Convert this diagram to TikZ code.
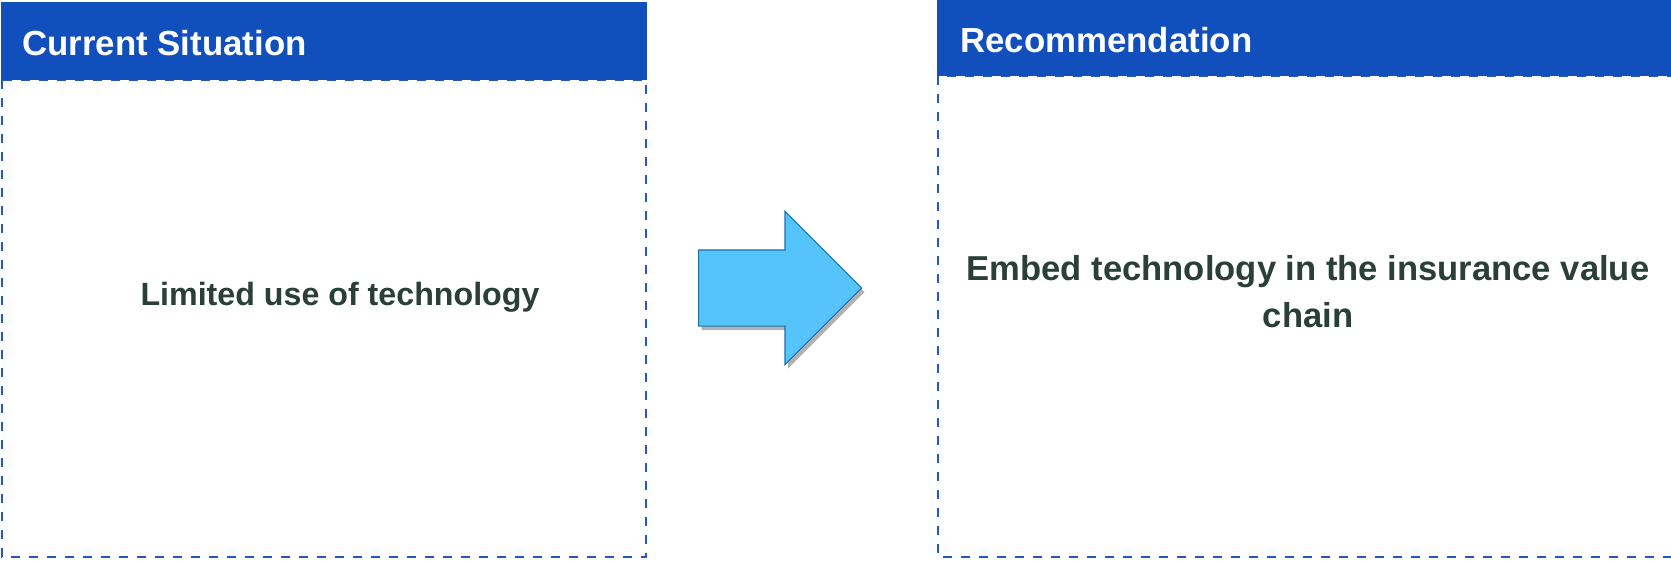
\documentclass[tikz,border=0pt]{standalone}
\usepackage{fontspec}
\setmainfont{Liberation Sans}
\usetikzlibrary{shapes.arrows,shadows}
\begin{document}
\begin{tikzpicture}[x=0.5pt,y=-0.5pt]
    \definecolor{headColour}{HTML}{114FBD}
    \definecolor{dashColour}{HTML}{2356C6}
    \definecolor{textColour}{HTML}{2A3F37}
    \definecolor{arrowFill}{HTML}{56C4FC}
    \definecolor{arrowBorder}{HTML}{1B73A8}

    \tikzset{
        headbar/.style={fill=headColour, draw=none},
        headtext/.style={anchor=base west, text=white, font=\fontsize{17.4}{20}\selectfont\bfseries, inner sep=0pt},
        boxline/.style={draw=dashColour, line width=1pt, dash pattern=on 4.5pt off 4.5pt},
        bodytext/.style={text=textColour, font=\fontsize{16.1}{23.5}\selectfont\bfseries, align=center, inner sep=0pt, anchor=base}
    }

    % Fix the canvas
    \useasboundingbox (0,0) rectangle (1671,563);
    \clip (0,0) rectangle (1671,563);

    % Current situation box
    \draw[boxline] (2,80) rectangle (646,557);
    \fill[headbar] (1,2) rectangle (647,80);
    \node[headtext] (curHead) at (22,55) {Current Situation};
    \node[bodytext] (curText) at (340,305) {Limited use of technology};

    % Recommendation box, runs off the right edge
    \draw[boxline] (938,76) rectangle (1690,557);
    \fill[headbar] (937,0) rectangle (1671,76);
    \node[headtext] (recHead) at (960,52) {Recommendation};
    \node[bodytext, font=\fontsize{17.3}{23.5}\selectfont\bfseries] (recText) at (1308,327) {Embed technology in the insurance value\\chain};

    % Block arrow between the boxes
    \node[single arrow, draw=arrowBorder, fill=arrowFill, line width=0.6pt,
          minimum height=81.5pt, inner xsep=0pt, inner ysep=18.75pt,
          single arrow head extend=19.25pt, single arrow tip angle=90,
          anchor=tail,
          drop shadow={shadow xshift=1.5pt, shadow yshift=-2pt, opacity=0.3, fill=black}]
          (moveArrow) at (698,288) {};

\end{tikzpicture}
\end{document}
